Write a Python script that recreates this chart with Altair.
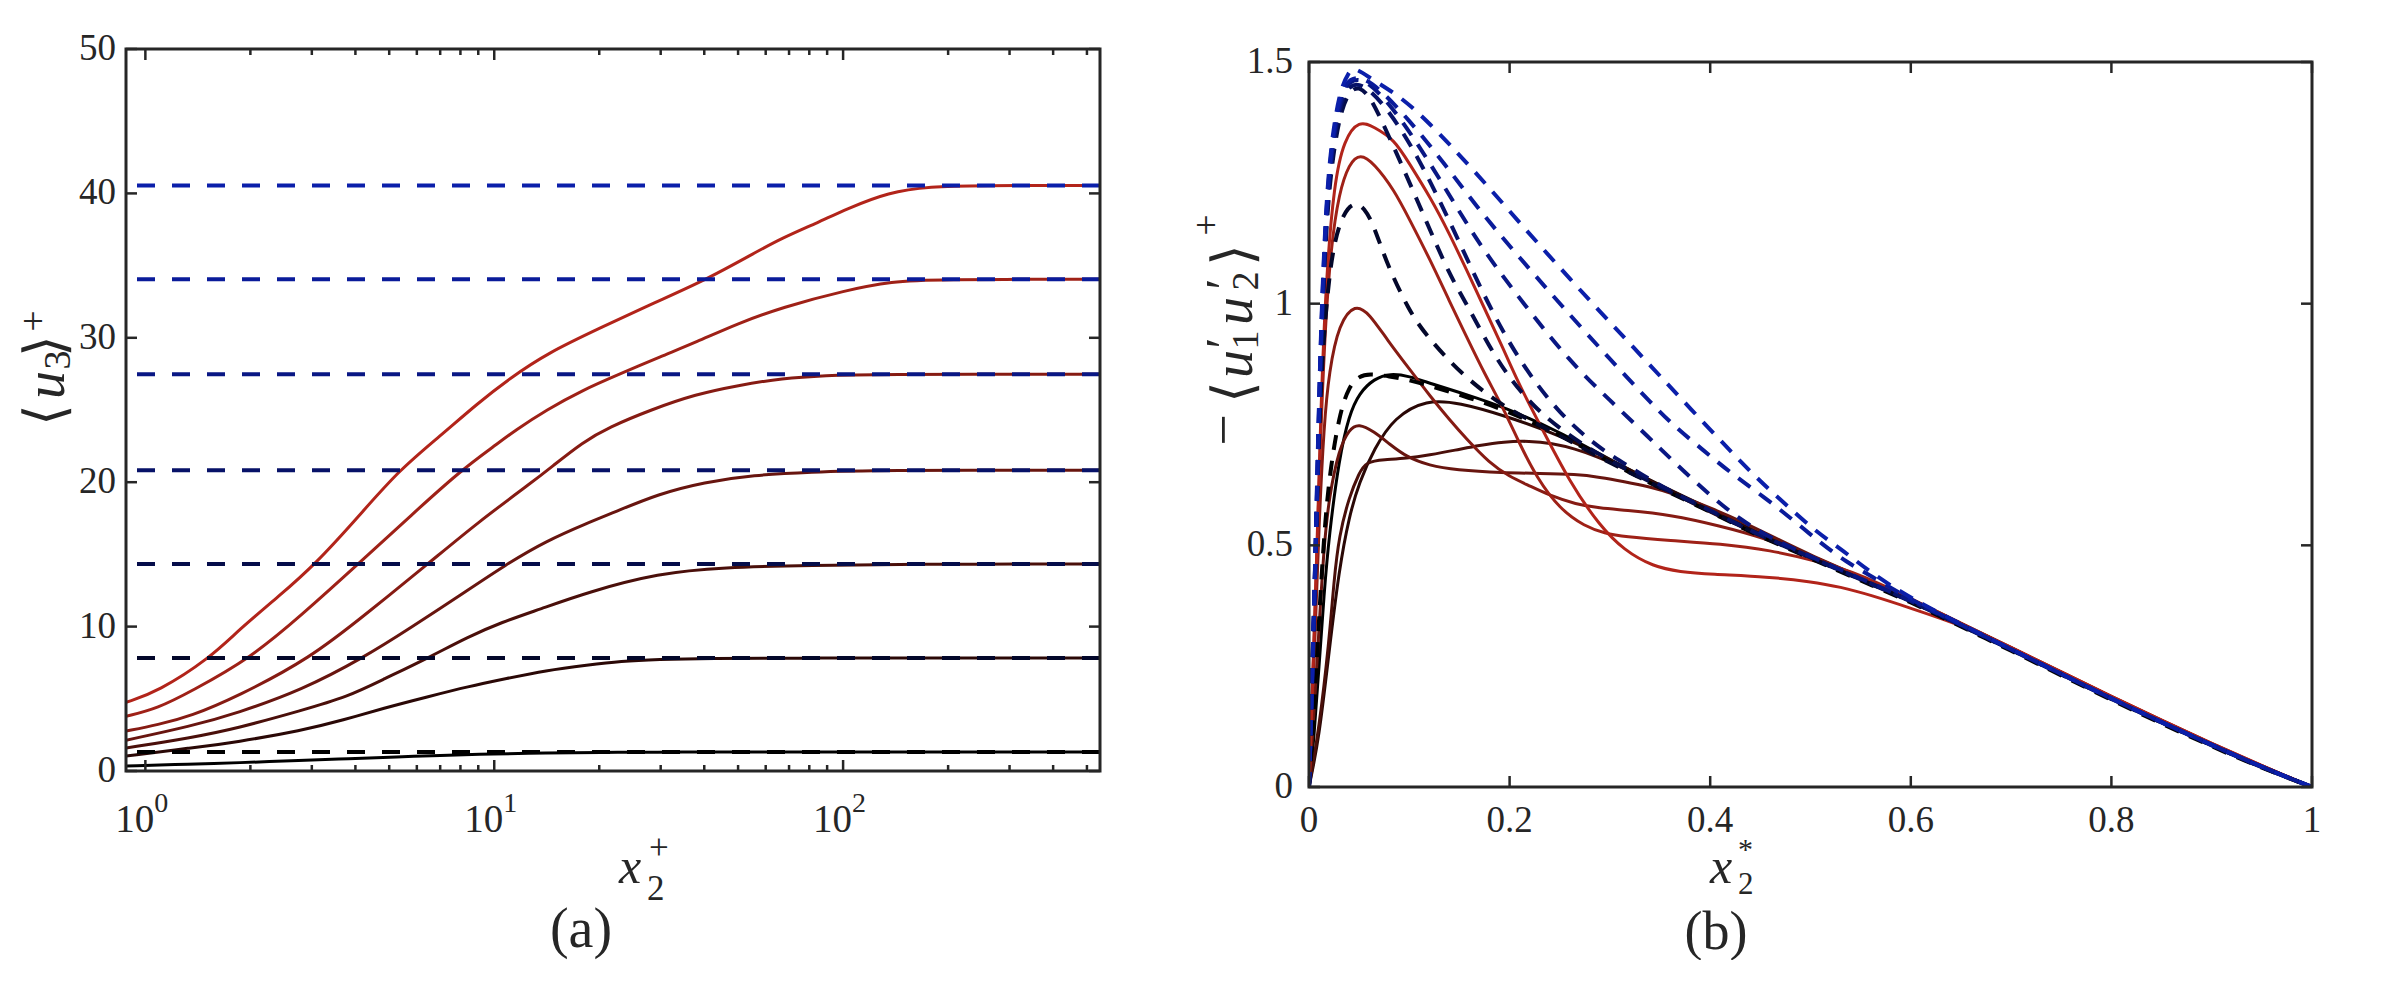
import altair as alt
import pandas as pd

# ---------------- panel (a): <u3>+ against x2+ (log axis) ----------------
A1_X = [0.88, 1.35, 1.829, 2.806, 3.802, 5.321, 6.864, 10, 14, 20, 30, 40, 60, 100, 545]
A1_Y = [0.35, 0.47, 0.57, 0.73, 0.86, 0.97, 1.08, 1.18, 1.25, 1.29, 1.31, 1.31, 1.31, 1.31, 1.31]
A2_X = [0.88, 1.35, 1.829, 2.806, 3.703, 4.812, 6.449, 8.424, 10.85, 14, 18.6, 23, 29.6, 40, 81.5, 120, 545]
A2_Y = [1.03, 1.6, 2.0, 2.8, 3.53, 4.35, 5.14, 5.85, 6.4, 6.95, 7.34, 7.6, 7.72, 7.8, 7.82, 7.82, 7.82]
A3_X = [0.88, 1.35, 1.829, 2.806, 3.802, 4.812, 6.449, 8.424, 10.5, 13.5, 18.6, 29.6, 45, 81.5, 150, 545]
A3_Y = [1.59, 2.3, 2.95, 4.2, 5.14, 6.35, 7.82, 9.3, 10.3, 11.2, 12.4, 13.7, 14.1, 14.25, 14.33, 14.33]
A4_X = [0.88, 1.35, 1.829, 2.806, 4.205, 5.833, 7.902, 10.85, 14, 18.6, 22, 29.6, 40, 55, 81.5, 120, 545]
A4_Y = [2.13, 3.1, 4.0, 5.6, 7.82, 10.0, 12.1, 14.33, 15.9, 17.2, 17.9, 19.2, 20.0, 20.5, 20.7, 20.83, 20.83]
A5_X = [0.88, 1.086, 1.35, 1.829, 2.975, 4.305, 6.449, 8.95, 13, 14.5, 18, 21.3, 28, 37.9, 50, 66.7, 90, 117, 545]
A5_Y = [2.76, 3.2, 3.8, 5.14, 7.82, 10.9, 14.33, 17.2, 20.1, 21.0, 22.8, 23.8, 25.0, 26.1, 26.7, 27.2, 27.4, 27.47, 27.47]
A6_X = [0.88, 1.086, 1.35, 2.004, 2.806, 4.074, 5.833, 8.038, 10, 11.5, 14.1, 18, 22.8, 30, 37.9, 50, 66.7, 101.8, 139, 180, 545]
A6_Y = [3.78, 4.34, 5.5, 7.82, 10.8, 14.33, 17.8, 20.83, 22.5, 23.6, 25.0, 26.4, 27.47, 28.7, 29.7, 31.0, 32.1, 33.3, 33.9, 34.05, 34.05]
A7_X = [0.88, 1.086, 1.532, 1.858, 2.413, 3.073, 4.074, 5.331, 7, 9, 11.1, 14.1, 20.4, 28.6, 40.7, 55, 66.7, 85, 101.8, 135, 179, 237, 545]
A7_Y = [4.75, 5.5, 7.82, 9.8, 12.1, 14.33, 17.6, 20.83, 23.2, 25.5, 27.2, 28.9, 30.75, 32.4, 34.05, 35.8, 36.9, 38.0, 38.9, 40.1, 40.48, 40.55, 40.55]
# dashed reference levels
A_LEVELS = [1.31, 7.82, 14.33, 20.83, 27.47, 34.05, 40.55]
A_XRANGE = [0.88, 545]

A_XMAJOR = [1, 10, 100]
A_XEXP = ["0", "1", "2"]
A_XMINOR = [2, 3, 4, 5, 6, 7, 8, 9, 20, 30, 40, 50, 60, 70, 80, 90, 200, 300, 400, 500]
A_YTICKS = [0, 10, 20, 30, 40, 50]
A_YLABELS = ["0", "10", "20", "30", "40", "50"]

# ---------------- panel (b): -<u1'u2'>+ against x2* ----------------
# solid profiles
BK_X = [0, 0.005, 0.01, 0.015, 0.02, 0.03, 0.04, 0.05, 0.065, 0.081, 0.1, 0.121, 0.16, 0.193, 0.25, 0.3, 0.352, 0.4, 0.44, 0.5, 0.55, 0.6, 0.65, 0.7, 0.75, 0.8, 0.85, 0.9, 0.95, 1.0]
BK_Y = [0, 0.1, 0.25, 0.4, 0.52, 0.68, 0.77, 0.815, 0.845, 0.856, 0.85, 0.835, 0.81, 0.787, 0.735, 0.677, 0.621, 0.575, 0.532, 0.478, 0.432, 0.388, 0.337, 0.287, 0.236, 0.185, 0.136, 0.088, 0.042, 0.0]
BD1_X = [0, 0.01, 0.02, 0.03, 0.04, 0.05, 0.065, 0.085, 0.117, 0.15, 0.193, 0.25, 0.3, 0.352, 0.4, 0.44, 0.5, 0.55, 0.6, 0.65, 0.7, 0.75, 0.8, 0.85, 0.9, 0.95, 1.0]
BD1_Y = [0, 0.1, 0.28, 0.45, 0.56, 0.63, 0.7, 0.765, 0.802, 0.795, 0.77, 0.728, 0.678, 0.622, 0.576, 0.533, 0.479, 0.433, 0.389, 0.338, 0.288, 0.237, 0.186, 0.137, 0.089, 0.043, 0.0]
BD2_X = [0, 0.01, 0.02, 0.025, 0.03, 0.04, 0.05, 0.057, 0.075, 0.097, 0.12, 0.146, 0.17, 0.194, 0.22, 0.242, 0.265, 0.288, 0.313, 0.338, 0.37, 0.41, 0.45, 0.5, 0.55, 0.6, 0.65, 0.7, 0.75, 0.8, 0.85, 0.9, 0.95, 1.0]
BD2_Y = [0, 0.12, 0.3, 0.43, 0.52, 0.6, 0.65, 0.673, 0.677, 0.68, 0.687, 0.697, 0.707, 0.7145, 0.716, 0.711, 0.7, 0.683, 0.66, 0.635, 0.6, 0.558, 0.521, 0.477, 0.431, 0.387, 0.336, 0.286, 0.235, 0.184, 0.135, 0.087, 0.041, 0.0]
BM_X = [0, 0.005, 0.01, 0.015, 0.02, 0.03, 0.04, 0.0495, 0.065, 0.08, 0.097, 0.12, 0.146, 0.194, 0.23, 0.266, 0.29, 0.314, 0.34, 0.362, 0.4, 0.434, 0.47, 0.5, 0.55, 0.6, 0.65, 0.7, 0.75, 0.8, 0.85, 0.9, 0.95, 1.0]
BM_Y = [0, 0.15, 0.33, 0.5, 0.6, 0.7, 0.74, 0.7525, 0.735, 0.71, 0.683, 0.665, 0.656, 0.65, 0.649, 0.647, 0.641, 0.632, 0.621, 0.608, 0.578, 0.547, 0.51, 0.48, 0.434, 0.389, 0.338, 0.288, 0.237, 0.186, 0.137, 0.089, 0.043, 0.0]
BS5_X = [0, 0.005, 0.01, 0.015, 0.02, 0.03, 0.046, 0.06, 0.078, 0.1, 0.121, 0.14, 0.157, 0.18, 0.2, 0.218, 0.24, 0.266, 0.29, 0.314, 0.362, 0.41, 0.45, 0.5, 0.55, 0.6, 0.65, 0.7, 0.75, 0.8, 0.85, 0.9, 0.95, 1.0]
BS5_Y = [0, 0.25, 0.55, 0.75, 0.86, 0.96, 1.0, 0.98, 0.925, 0.865, 0.808, 0.76, 0.72, 0.67, 0.642, 0.625, 0.603, 0.585, 0.577, 0.573, 0.563, 0.54, 0.518, 0.479, 0.434, 0.389, 0.338, 0.288, 0.237, 0.186, 0.137, 0.089, 0.043, 0.0]
BS6_X = [0, 0.006, 0.011, 0.016, 0.022, 0.03, 0.04, 0.051, 0.065, 0.085, 0.1, 0.121, 0.14, 0.157, 0.175, 0.193, 0.21, 0.227, 0.25, 0.275, 0.295, 0.314, 0.36, 0.41, 0.46, 0.506, 0.55, 0.6, 0.65, 0.7, 0.75, 0.8, 0.85, 0.9, 0.95, 1.0]
BS6_Y = [0, 0.35, 0.7, 0.95, 1.12, 1.23, 1.29, 1.311, 1.29, 1.235, 1.175, 1.09, 1.005, 0.932, 0.855, 0.787, 0.71, 0.64, 0.575, 0.539, 0.525, 0.518, 0.51, 0.503, 0.49, 0.468, 0.44, 0.39, 0.339, 0.289, 0.238, 0.187, 0.138, 0.09, 0.044, 0.0]
BS7_X = [0, 0.007, 0.012, 0.017, 0.025, 0.035, 0.05, 0.065, 0.085, 0.1, 0.121, 0.14, 0.157, 0.175, 0.193, 0.21, 0.229, 0.26, 0.29, 0.314, 0.343, 0.37, 0.4, 0.458, 0.5, 0.53, 0.56, 0.6, 0.65, 0.7, 0.75, 0.8, 0.85, 0.9, 0.95, 1.0]
BS7_Y = [0, 0.42, 0.8, 1.05, 1.25, 1.34, 1.38, 1.365, 1.34, 1.29, 1.22, 1.145, 1.07, 0.99, 0.91, 0.83, 0.755, 0.63, 0.54, 0.49, 0.456, 0.445, 0.44, 0.435, 0.425, 0.414, 0.397, 0.37, 0.335, 0.289, 0.238, 0.187, 0.138, 0.09, 0.044, 0.0]

# dashed profiles
CK_X = [0, 0.005, 0.01, 0.015, 0.02, 0.03, 0.04, 0.05, 0.06, 0.08, 0.1, 0.121, 0.16, 0.193, 0.25, 0.3, 0.352, 0.4, 0.44, 0.5, 0.55, 0.6, 0.65, 0.7, 0.75, 0.8, 0.85, 0.9, 0.95, 1.0]
CK_Y = [0, 0.15, 0.35, 0.52, 0.64, 0.77, 0.83, 0.85, 0.855, 0.85, 0.842, 0.83, 0.805, 0.782, 0.73, 0.672, 0.616, 0.57, 0.527, 0.473, 0.427, 0.383, 0.332, 0.282, 0.231, 0.18, 0.131, 0.084, 0.039, 0.0]
C1_X = [0, 0.004, 0.008, 0.012, 0.018, 0.025, 0.035, 0.045, 0.055, 0.065, 0.078, 0.1, 0.115, 0.1535, 0.2015, 0.24, 0.294, 0.352, 0.4, 0.44, 0.5, 0.55, 0.6, 0.65, 0.7, 0.75, 0.8, 0.85, 0.9, 0.95, 1.0]
C1_Y = [0, 0.3, 0.6, 0.85, 1.02, 1.13, 1.19, 1.21, 1.2, 1.16, 1.08, 0.985, 0.939, 0.849, 0.776, 0.74, 0.676, 0.618, 0.572, 0.529, 0.475, 0.429, 0.385, 0.334, 0.284, 0.233, 0.182, 0.133, 0.086, 0.04, 0.0]
C2_X = [0, 0.006, 0.0105, 0.015, 0.02, 0.03, 0.04, 0.05, 0.06, 0.07, 0.092, 0.117, 0.14, 0.157, 0.18, 0.2, 0.225, 0.25, 0.275, 0.3, 0.352, 0.4, 0.44, 0.5, 0.55, 0.6, 0.65, 0.7, 0.75, 0.8, 0.85, 0.9, 0.95, 1.0]
C2_Y = [0, 0.4, 0.8, 1.07, 1.25, 1.39, 1.44, 1.45, 1.43, 1.39, 1.29, 1.17, 1.06, 1.0, 0.91, 0.845, 0.785, 0.742, 0.706, 0.675, 0.618, 0.572, 0.529, 0.475, 0.429, 0.385, 0.334, 0.284, 0.233, 0.182, 0.133, 0.086, 0.04, 0.0]
C3_X = [0, 0.006, 0.0105, 0.015, 0.02, 0.03, 0.04, 0.055, 0.08, 0.11, 0.145, 0.178, 0.21, 0.25, 0.29, 0.32, 0.352, 0.4, 0.44, 0.5, 0.55, 0.6, 0.65, 0.7, 0.75, 0.8, 0.85, 0.9, 0.95, 1.0]
C3_Y = [0, 0.41, 0.82, 1.09, 1.27, 1.41, 1.455, 1.455, 1.4, 1.3, 1.15, 1.0, 0.88, 0.77, 0.7, 0.662, 0.62, 0.573, 0.53, 0.476, 0.43, 0.386, 0.335, 0.285, 0.234, 0.183, 0.134, 0.087, 0.041, 0.0]
C4_X = [0, 0.006, 0.0105, 0.015, 0.02, 0.03, 0.04, 0.058, 0.09, 0.13, 0.17, 0.214, 0.26, 0.3, 0.338, 0.365, 0.4, 0.43, 0.46, 0.5, 0.55, 0.6, 0.65, 0.7, 0.75, 0.8, 0.85, 0.9, 0.95, 1.0]
C4_Y = [0, 0.42, 0.84, 1.1, 1.28, 1.42, 1.465, 1.465, 1.39, 1.26, 1.12, 1.0, 0.88, 0.8, 0.725, 0.67, 0.603, 0.553, 0.515, 0.477, 0.431, 0.386, 0.335, 0.285, 0.234, 0.183, 0.134, 0.087, 0.041, 0.0]
C5_X = [0, 0.006, 0.0105, 0.015, 0.02, 0.03, 0.04, 0.06, 0.1, 0.135, 0.171, 0.21, 0.25, 0.3, 0.343, 0.365, 0.393, 0.421, 0.453, 0.483, 0.51, 0.536, 0.56, 0.6, 0.65, 0.7, 0.75, 0.8, 0.85, 0.9, 0.95, 1.0]
C5_Y = [0, 0.43, 0.85, 1.11, 1.29, 1.43, 1.47, 1.468, 1.38, 1.29, 1.19, 1.095, 1.0, 0.885, 0.79, 0.745, 0.697, 0.649, 0.601, 0.552, 0.505, 0.465, 0.437, 0.387, 0.336, 0.285, 0.234, 0.183, 0.134, 0.087, 0.041, 0.0]
C6_X = [0, 0.006, 0.0105, 0.015, 0.02, 0.03, 0.04, 0.045, 0.0635, 0.09, 0.1173, 0.164, 0.2106, 0.2609, 0.3075, 0.3506, 0.3995, 0.4456, 0.4726, 0.503, 0.532, 0.561, 0.6, 0.65, 0.7, 0.75, 0.8, 0.85, 0.9, 0.95, 1.0]
C6_Y = [0, 0.44, 0.86, 1.12, 1.3, 1.44, 1.48, 1.49, 1.463, 1.43, 1.38, 1.277, 1.166, 1.049, 0.945, 0.849, 0.74, 0.64, 0.59, 0.532, 0.49, 0.442, 0.39, 0.337, 0.285, 0.234, 0.183, 0.134, 0.087, 0.041, 0.0]

B_XTICKS = [0, 0.2, 0.4, 0.6, 0.8, 1.0]
B_XLABELS = ["0", "0.2", "0.4", "0.6", "0.8", "1"]
B_YTICKS = [0, 0.5, 1.0, 1.5]
B_YLABELS = ["0", "0.5", "1", "1.5"]

# ---------------- styling ----------------
INK = "#262626"
REDS = ["#000000", "#2A0806", "#4A0F0A", "#68150F", "#861B13", "#9F2117", "#B2241A"]
BLUES = ["#000000", "#03072A", "#050D4A", "#071268", "#091784", "#0A1B9A", "#0B1FAA"]
TICK_FONT = "Liberation Serif"
MATH_FONT = "Liberation Serif, DejaVu Serif, serif"
TICK_SIZE = 37

# plot-area geometry (left/top offset of panel a, sizes of both panels)
LEFT, TOP = 126, 49
WA, HA = 974, 722
WB, HB = 1003, 725
GAP = 209
DROP_B = 13
MAJOR, MINOR = 11, 6


def curves(pairs, colors):
    rows = []
    for i, ((xs, ys), c) in enumerate(zip(pairs, colors)):
        for x, y in zip(xs, ys):
            rows.append({"x": x, "y": y, "s": i, "c": c})
    return pd.DataFrame(rows)


def piece(s, x, y, size, italic=False, angle=0, align="center"):
    return alt.Chart(pd.DataFrame({"t": [s]})).mark_text(
        font=MATH_FONT, fontSize=size, fontStyle="italic" if italic else "normal",
        angle=angle, align=align, baseline="alphabetic", color=INK,
    ).encode(x=alt.value(x), y=alt.value(y), text="t:N")


def frame(w, h):
    return alt.Chart(pd.DataFrame({"k": [0]})).mark_rect(
        fillOpacity=0, stroke=INK, strokeWidth=3
    ).encode(x=alt.value(0), x2=alt.value(w), y=alt.value(0), y2=alt.value(h))


def xticks(values, scale, h, length):
    base = alt.Chart(pd.DataFrame({"v": values}))
    bottom = base.mark_rule(color=INK, strokeWidth=2.5).encode(
        x=alt.X("v:Q", scale=scale, axis=None), y=alt.value(h), y2=alt.value(h - length))
    top = base.mark_rule(color=INK, strokeWidth=2.5).encode(
        x=alt.X("v:Q", scale=scale, axis=None), y=alt.value(0), y2=alt.value(length))
    return [bottom, top]


def yticks(values, scale, w, length):
    base = alt.Chart(pd.DataFrame({"v": values}))
    left = base.mark_rule(color=INK, strokeWidth=2.5).encode(
        y=alt.Y("v:Q", scale=scale, axis=None), x=alt.value(0), x2=alt.value(length))
    right = base.mark_rule(color=INK, strokeWidth=2.5).encode(
        y=alt.Y("v:Q", scale=scale, axis=None), x=alt.value(w), x2=alt.value(w - length))
    return [left, right]


def ylabels(values, labels, scale, offset):
    return alt.Chart(pd.DataFrame({"v": values, "t": labels})).mark_text(
        align="right", baseline="middle", font=TICK_FONT, fontSize=TICK_SIZE, color=INK
    ).encode(y=alt.Y("v:Q", scale=scale, axis=None), x=alt.value(offset), text="t:N")


# ---------------- panel (a) ----------------
XA = alt.Scale(type="log", domain=A_XRANGE, nice=False)
YA = alt.Scale(domain=[0, 50], nice=False, zero=False)

a_solid = curves([(A1_X, A1_Y), (A2_X, A2_Y), (A3_X, A3_Y), (A4_X, A4_Y),
                  (A5_X, A5_Y), (A6_X, A6_Y), (A7_X, A7_Y)], REDS)
a_levels = pd.DataFrame({"lev": A_LEVELS, "c": BLUES})

a_lines = alt.Chart(a_solid).mark_line(strokeWidth=3, interpolate="basis", clip=True).encode(
    x=alt.X("x:Q", scale=XA, axis=None),
    y=alt.Y("y:Q", scale=YA, axis=None),
    color=alt.Color("c:N", scale=None),
    detail="s:N",
)
a_dash = alt.Chart(a_levels).mark_rule(strokeWidth=4, strokeDash=[18, 17]).encode(
    y=alt.Y("lev:Q", scale=YA, axis=None),
    color=alt.Color("c:N", scale=None),
)
a_lab = alt.Chart(pd.DataFrame({"v": A_XMAJOR, "e": A_XEXP}))
a_ten = a_lab.mark_text(align="right", dx=9, baseline="alphabetic", font=TICK_FONT,
                        fontSize=39, color=INK).encode(
    x=alt.X("v:Q", scale=XA, axis=None), y=alt.value(HA + 61), text=alt.value("10"))
a_exp = a_lab.mark_text(align="left", dx=9, baseline="alphabetic", font=TICK_FONT,
                        fontSize=28, color=INK).encode(
    x=alt.X("v:Q", scale=XA, axis=None), y=alt.value(HA + 41), text="e:N")
anchor = alt.Chart(pd.DataFrame({"k": [0]})).mark_rule(strokeOpacity=0, strokeWidth=1).encode(
    x=alt.value(-LEFT), x2=alt.value(-LEFT), y=alt.value(-TOP), y2=alt.value(-TOP + 1))

a_titles = [
    piece("\u27e8", -62, 366, 56, angle=270),
    piece("u", -62, 336, 56, italic=True, angle=270),
    piece("3", -56, 311, 38, angle=270),
    piece("\u27e9", -62, 297, 56, angle=270),
    piece("+", -80, 272, 38, angle=270),
    piece("x", 504, 834, 50, italic=True),
    piece("2", 521, 851, 35, align="left"),
    piece("+", 523, 810, 35, align="left"),
    piece("(a)", 455, 898, 56),
]

panel_a = alt.layer(
    a_lines, a_dash,
    *xticks(A_XMAJOR, XA, HA, MAJOR), *xticks(A_XMINOR, XA, HA, MINOR),
    *yticks(A_YTICKS, YA, WA, MAJOR),
    frame(WA, HA), ylabels(A_YTICKS, A_YLABELS, YA, -10), a_ten, a_exp, *a_titles, anchor,
).properties(width=WA, height=HA)

# ---------------- panel (b) ----------------
XB = alt.Scale(domain=[0, 1], nice=False, zero=False)
YB = alt.Scale(domain=[0, 1.5], nice=False, zero=False)

b_solid = curves([(BK_X, BK_Y), (BD1_X, BD1_Y), (BD2_X, BD2_Y), (BM_X, BM_Y),
                  (BS5_X, BS5_Y), (BS6_X, BS6_Y), (BS7_X, BS7_Y)], REDS)
b_dashed = curves([(CK_X, CK_Y), (C1_X, C1_Y), (C2_X, C2_Y), (C3_X, C3_Y),
                   (C4_X, C4_Y), (C5_X, C5_Y), (C6_X, C6_Y)], BLUES)

b_lines = alt.Chart(b_solid).mark_line(strokeWidth=3, interpolate="basis", clip=True).encode(
    x=alt.X("x:Q", scale=XB, axis=None),
    y=alt.Y("y:Q", scale=YB, axis=None),
    color=alt.Color("c:N", scale=None),
    detail="s:N",
)
b_dash = alt.Chart(b_dashed).mark_line(strokeWidth=4, strokeDash=[15, 11],
                                       interpolate="basis", clip=True).encode(
    x=alt.X("x:Q", scale=XB, axis=None),
    y=alt.Y("y:Q", scale=YB, axis=None),
    color=alt.Color("c:N", scale=None),
    detail="s:N",
)
b_xlab = alt.Chart(pd.DataFrame({"v": B_XTICKS, "t": B_XLABELS})).mark_text(
    align="center", baseline="alphabetic", font=TICK_FONT, fontSize=TICK_SIZE, color=INK
).encode(x=alt.X("v:Q", scale=XB, axis=None), y=alt.value(HB + 45), text="t:N")

b_titles = [
    piece("\u2212", -67, 368, 56, angle=270),
    piece("\u27e8", -57, 330, 56, angle=270),
    piece("u", -57, 302, 56, italic=True, angle=270),
    piece("\u2032", -69, 281, 50, angle=270),
    piece("1", -51, 278, 38, angle=270),
    piece("u", -57, 249, 56, italic=True, angle=270),
    piece("\u2032", -69, 222, 50, angle=270),
    piece("2", -51, 219, 38, angle=270),
    piece("\u27e9", -57, 193, 56, angle=270),
    piece("+", -90, 163, 38, angle=270),
    piece("x", 412, 821, 50, italic=True),
    piece("2", 429, 832, 31, align="left"),
    piece("*", 429, 797, 30, align="left"),
    piece("(b)", 407, 887, 54),
]

panel_b = alt.layer(
    b_lines, b_dash,
    *xticks(B_XTICKS, XB, HB, MAJOR), *yticks(B_YTICKS, YB, WB, MAJOR),
    frame(WB, HB), ylabels(B_YTICKS, B_YLABELS, YB, -16), b_xlab, *b_titles,
).properties(width=WB, height=HB)

# thin invisible strip that lowers panel (b) relative to panel (a)
spacer = alt.Chart(pd.DataFrame({"k": [0]})).mark_rule(strokeOpacity=0).encode(
    x=alt.value(0), x2=alt.value(1), y=alt.value(0), y2=alt.value(1)
).properties(width=WB, height=1)

right = alt.vconcat(spacer, panel_b, spacing=DROP_B - 1, bounds="flush")

chart = alt.hconcat(panel_a, right, spacing=GAP, bounds="flush").properties(
    padding=0, background="white"
).configure_view(strokeWidth=0)

chart.save("out.html", embed_options={"renderer": "svg", "actions": False})
